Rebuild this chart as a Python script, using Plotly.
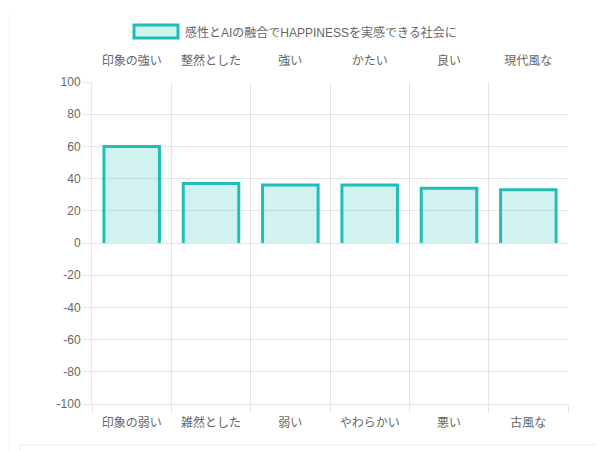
import plotly.graph_objects as go

bottom_labels = ["印象の弱い", "雑然とした", "弱い", "やわらかい", "悪い", "古風な"]
top_labels = ["印象の強い", "整然とした", "強い", "かたい", "良い", "現代風な"]
values = [60, 37, 36, 36, 34, 33]
series_name = "感性とAIの融合でHAPPINESSを実感できる社会に"
y_ticks = [100, 80, 60, 40, 20, 0, -20, -40, -60, -80, -100]
y_tick_text = [str(v) for v in y_ticks]

# page body has an 8px default margin; compensate so screen positions match
OFF = 8
W, H = 604, 451
SL, SR, ST, SB = 92, 568, 82, 404
ML, MT = SL - OFF, ST - OFF
MR = W - (SR - OFF)
MB = H - (SB - OFF)
PW, PH = SR - SL, SB - ST

def px(x):
    return (x - SL) / PW

def py(y):
    return (SB - y) / PH

FONT = "Liberation Sans, Noto Sans CJK JP, sans-serif"
GRID = "rgba(0,0,0,0.1)"
TEXT = "#666666"
FILL = "rgba(32,190,182,0.2)"
EDGE = "rgb(32,190,182)"
BAR_W = 0.7

fig = go.Figure()
fig.add_trace(go.Bar(
    x=bottom_labels, y=values, width=BAR_W,
    marker=dict(color=FILL, line=dict(width=0)),
    name=series_name, showlegend=False, hoverinfo="y",
))
# bar outlines without the bottom edge (Chart.js borderSkipped style)
ox, oy = [], []
for i, v in enumerate(values):
    ox += [i - BAR_W / 2, i - BAR_W / 2, i + BAR_W / 2, i + BAR_W / 2, None]
    oy += [0, v, v, 0, None]
fig.add_trace(go.Scatter(
    x=ox, y=oy, xaxis="x3", mode="lines",
    line=dict(color=EDGE, width=3), showlegend=False, hoverinfo="skip",
))
fig.add_trace(go.Scatter(
    x=top_labels, y=[None] * len(top_labels), xaxis="x2",
    mode="markers", showlegend=False, hoverinfo="skip",
))

fig.update_layout(
    width=W, height=H,
    margin=dict(l=ML, r=MR, t=MT, b=MB),
    paper_bgcolor="white", plot_bgcolor="white",
    font=dict(family=FONT, size=12, color=TEXT),
    xaxis=dict(
        type="category", tickson="boundaries", showgrid=True, gridcolor=GRID,
        gridwidth=1, ticks="outside", ticklen=8, tickcolor=GRID,
        showline=True, linecolor=GRID, zeroline=False, automargin=False,
        ticklabelstandoff=8,
        tickfont=dict(size=12, color=TEXT), range=[-0.5, 5.5],
    ),
    xaxis2=dict(
        type="category", overlaying="x", side="top", showgrid=False,
        ticks="outside", ticklen=11, tickcolor="rgba(0,0,0,0)",
        showline=False, zeroline=False, range=[-0.5, 5.5], automargin=False,
        tickfont=dict(size=12, color=TEXT),
    ),
    xaxis3=dict(
        type="linear", overlaying="x", range=[-0.5, 5.5], visible=False,
        showgrid=False, zeroline=False, automargin=False,
    ),
    yaxis=dict(
        range=[-100, 100], tickvals=y_ticks, ticktext=y_tick_text,
        showgrid=True, gridcolor=GRID,
        ticks="outside", ticklen=8, tickcolor=GRID, zeroline=False,
        showline=True, linecolor=GRID, automargin=False,
        tickfont=dict(size=12, color=TEXT),
    ),
    bargap=0,
    showlegend=False,
    shapes=[
        dict(type="rect", xref="paper", yref="paper",
             x0=px(134), x1=px(178), y0=py(38), y1=py(25),
             line=dict(color=EDGE, width=3), fillcolor=FILL),
        dict(type="line", xref="paper", yref="paper",
             x0=px(8), x1=px(8), y0=py(12), y1=py(455),
             line=dict(color="rgba(0,0,0,0.06)", width=1)),
        dict(type="rect", xref="paper", yref="paper",
             x0=px(20), x1=px(598), y0=py(470), y1=py(445),
             line=dict(color="rgba(0,0,0,0.08)", width=1), fillcolor="rgba(0,0,0,0)"),
    ],
    annotations=[
        dict(text=series_name, xref="paper", yref="paper",
             x=px(183), y=py(32), xanchor="left", yanchor="middle",
             showarrow=False, font=dict(size=12, color=TEXT, family=FONT)),
    ],
)

fig.write_html("out.html")
